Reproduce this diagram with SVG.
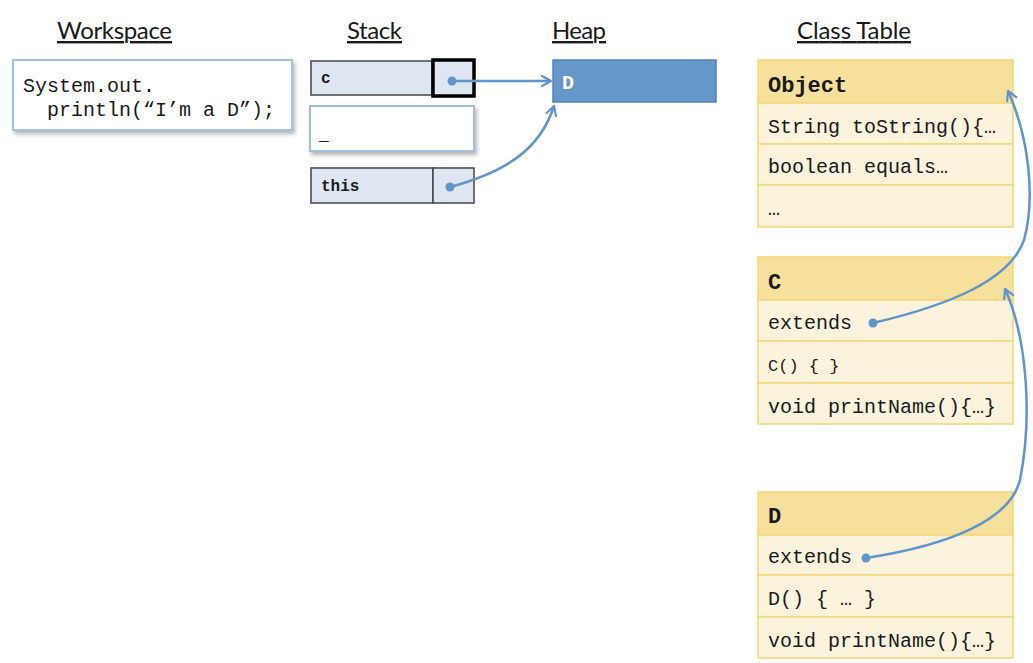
<svg xmlns="http://www.w3.org/2000/svg" width="1033" height="663" viewBox="0 0 1033 663">
<style>
.title{font-family:Lato,"Liberation Sans",sans-serif;font-size:24px;fill:#1a1a1a;text-decoration:underline}
.mono{font-family:"Liberation Mono","DejaVu Sans Mono",monospace;fill:#1a1a1a}
.code{font-size:20px}
.hdr{font-size:22px;font-weight:bold}
.stk{font-size:16px;font-weight:bold}
.cell{fill:#dde6f1;stroke:#444;stroke-width:1.5}
.hd{fill:#f6e09c;stroke:#f3d677;stroke-width:1.5}
.row{fill:#fcf3dc;stroke:#f3d677;stroke-width:1.5}
.conn{fill:none;stroke:#5f95cb;stroke-width:2.5}
.dot{fill:#5f95cb}
</style>
<defs>
<marker id="arr" viewBox="0 0 12 12" refX="10" refY="6" markerWidth="12" markerHeight="12" markerUnits="userSpaceOnUse" orient="auto" overflow="visible">
<path d="M1,1 L10,6 L1,11" fill="none" stroke="#5f95cb" stroke-width="2.2" stroke-linecap="round" stroke-linejoin="round"/>
</marker>
<filter id="sh" x="-10%" y="-10%" width="130%" height="140%">
<feDropShadow dx="2" dy="3" stdDeviation="2" flood-color="#000" flood-opacity="0.3"/>
</filter>
</defs>
<rect width="1033" height="663" fill="#fff"/>

<g id="titles">
<text class="title" x="57" y="39" textLength="115">Workspace</text>
<text class="title" x="347" y="39" textLength="55">Stack</text>
<text class="title" x="552" y="39" textLength="54">Heap</text>
<text class="title" x="797" y="39" textLength="114">Class Table</text>
</g>

<g id="workspace">
<rect x="13" y="60" width="279" height="70" fill="#fff" stroke="#a3c1e2" stroke-width="2" filter="url(#sh)"/>
<text class="mono code" x="23" y="92">System.out.</text>
<text class="mono code" x="47" y="116">println(“I’m a D”);</text>
</g>

<g id="stack-c">
<rect class="cell" x="311" y="61" width="121" height="34"/>
<rect x="433" y="60" width="41" height="36" fill="#dde6f1" stroke="#000" stroke-width="3.5"/>
<text class="mono stk" x="321" y="83">c</text>
</g>
<g id="stack-blank">
<rect x="310" y="106" width="164" height="45" fill="#fff" stroke="#9cbfe3" stroke-width="2" filter="url(#sh)"/>
<text class="mono stk" x="319" y="140">_</text>
</g>
<g id="stack-this">
<rect class="cell" x="311" y="168" width="122" height="35"/>
<rect class="cell" x="433" y="168" width="41" height="35"/>
<text class="mono stk" x="321" y="191">this</text>
</g>

<g id="heap-D">
<rect x="553" y="60" width="163" height="42" fill="#6598c9" stroke="#4f81bd" stroke-width="1.5"/>
<text class="mono" x="562" y="89" font-size="20" font-weight="bold" style="fill:#fff">D</text>
</g>

<g id="class-Object">
<rect class="hd" x="758" y="60" width="255" height="43"/>
<rect class="row" x="758" y="103" width="255" height="41"/>
<rect class="row" x="758" y="144" width="255" height="41"/>
<rect class="row" x="758" y="185" width="255" height="42"/>
<text class="mono hdr" x="768" y="92">Object</text>
<text class="mono code" x="768" y="133">String toString(){…</text>
<text class="mono code" x="768" y="173">boolean equals…</text>
<text class="mono code" x="768" y="215">…</text>
</g>

<g id="class-C">
<rect class="hd" x="758" y="257" width="255" height="43"/>
<rect class="row" x="758" y="300" width="255" height="41"/>
<rect class="row" x="758" y="341" width="255" height="42"/>
<rect class="row" x="758" y="383" width="255" height="41"/>
<text class="mono hdr" x="768" y="289">C</text>
<text class="mono code" x="768" y="329">extends</text>
<text class="mono" x="768" y="371" font-size="17">C() { }</text>
<text class="mono code" x="768" y="413">void printName(){…}</text>
</g>

<g id="class-D">
<rect class="hd" x="758" y="492" width="255" height="43"/>
<rect class="row" x="758" y="535" width="255" height="40"/>
<rect class="row" x="758" y="575" width="255" height="42"/>
<rect class="row" x="758" y="617" width="255" height="41"/>
<text class="mono hdr" x="768" y="523">D</text>
<text class="mono code" x="768" y="563">extends</text>
<text class="mono code" x="768" y="605">D() { … }</text>
<text class="mono code" x="768" y="647">void printName(){…}</text>
</g>

<g id="connectors">
<path class="conn" d="M452,81 L551,81" marker-end="url(#arr)"/>
<circle class="dot" cx="452" cy="81" r="4.5"/>
<path class="conn" d="M450,187 C505,172 540,150 554,106" marker-end="url(#arr)"/>
<circle class="dot" cx="450" cy="187" r="4.5"/>
<path class="conn" d="M873,323 C950,305 1010,280 1024,240 C1035,200 1030,140 1008,91" marker-end="url(#arr)"/>
<circle class="dot" cx="873" cy="323" r="4.5"/>
<path class="conn" d="M866,558 C950,545 1010,520 1020,480 C1032,420 1028,340 1005,289" marker-end="url(#arr)"/>
<circle class="dot" cx="866" cy="558" r="4.5"/>
</g>
</svg>
